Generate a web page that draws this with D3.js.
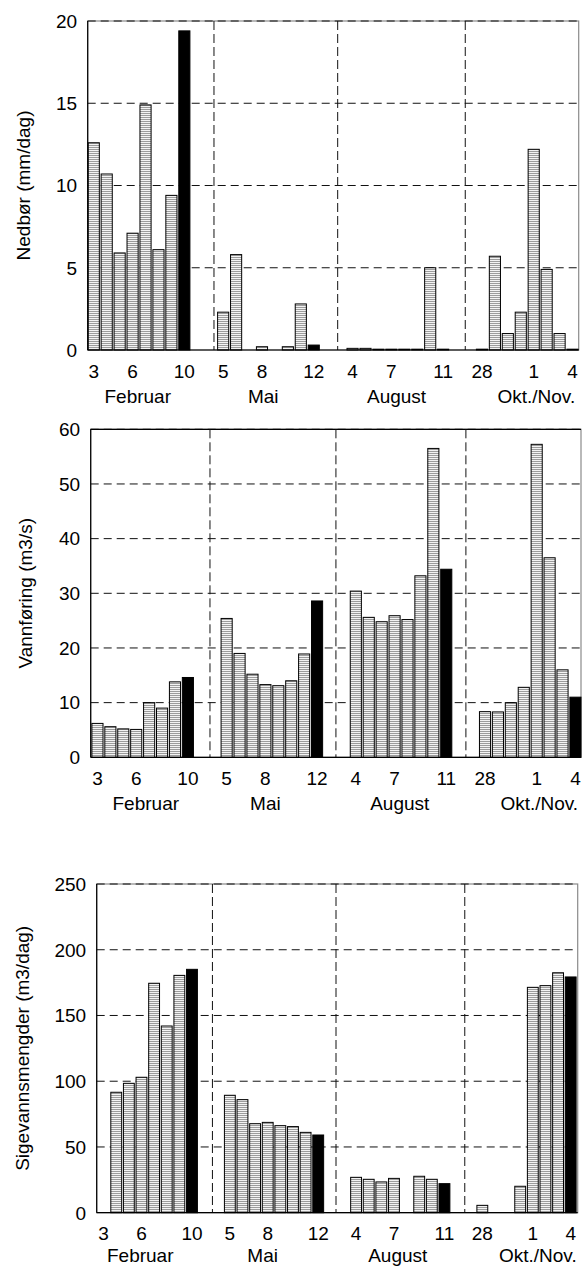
<!DOCTYPE html>
<html>
<head>
<meta charset="utf-8">
<script src="https://cdn.jsdelivr.net/npm/d3@7"></script>
<style>
  html, body { margin: 0; padding: 0; background: #fff; }
  svg { display: block; }
  text { font-family: "Liberation Sans", Arial, sans-serif; fill: #000; }
</style>
</head>
<body>
<script>
// ---------- data ----------
const months = ["Februar", "Mai", "August", "Okt./Nov."];
const days = [
  [3, 4, 5, 6, 7, 8, 9, 10],
  [5, 6, 7, 8, 9, 10, 11, 12],
  [4, 5, 6, 7, 8, 9, 10, 11],
  [28, 29, 30, 31, 1, 2, 3, 4]
];
const tickDays = [[3, 6, 10], [5, 8, 12], [4, 7, 11], [28, 1, 4]];

// Nedbør (mm/dag)
const nedbor = [
  12.6, 10.7, 5.9, 7.1, 14.9, 6.1, 9.4, 19.4,
  2.3, 5.8, 0, 0.2, 0, 0.2, 2.8, 0.3,
  0.1, 0.1, 0.05, 0.05, 0.05, 0.05, 5.0, 0.05,
  0.05, 5.7, 1.0, 2.3, 12.2, 4.9, 1.0, 0.05
];
// Vannføring (m3/s)
const vannforing = [
  6.2, 5.6, 5.2, 5.1, 10.0, 9.0, 13.8, 14.6,
  25.4, 19.0, 15.2, 13.3, 13.1, 14.0, 18.9, 28.6,
  30.4, 25.6, 24.8, 25.9, 25.2, 33.2, 56.5, 34.4,
  8.35, 8.3, 10.0, 12.8, 57.25, 36.5, 16.0, 11.0
];
// Sigevannsmengder (m3/dag)
const sigevann = [
  null, 91.6, 98.4, 103.0, 174.5, 142.0, 180.5, 185.1,
  89.3, 86.0, 67.7, 68.7, 66.2, 65.5, 61.1, 59.1,
  26.9, 25.4, 23.4, 26.1, null, 27.7, 25.4, 22.1,
  5.6, null, null, 20.1, 171.4, 172.7, 182.5, 179.3
];
// period divider positions (in slot units)
const dividersNedbor = [9.29, 18.85, 28.71];
const dividersVann = [8.71, 18.46, 28.52];
const dividersSige = [8.62, 18.41, 28.61];
// month label positions (in slot units)
const monthPosNedbor = [3.4, 13.1, 23.4, 34.2];
const monthPosVann = [3.74, 13.0, 23.4, 34.2];
const monthPosSige = [2.9, 12.6, 23.3, 34.4];

const yTicksNedbor = [0, 5, 10, 15, 20];
const yTicksVann = [0, 10, 20, 30, 40, 50, 60];
const yTicksSige = [0, 50, 100, 150, 200, 250];

// ---------- layout ----------
const W = 582, H = 1266;
const FS = 19;
const svg = d3.select("body").append("svg").attr("width", W).attr("height", H);

const defs = svg.append("defs");
const pat = defs.append("pattern").attr("id", "hatch")
  .attr("patternUnits", "userSpaceOnUse").attr("width", 4).attr("height", 2);
pat.append("rect").attr("width", 4).attr("height", 2).attr("fill", "#f3f3f3");
pat.append("rect").attr("width", 4).attr("height", 1).attr("y", 1).attr("fill", "#9c9c9c");

const GAP = 2; // empty slots between periods
const slotOf = (i) => Math.floor(i / 8) * (8 + GAP) + (i % 8);

const panels = [
  { title: "Nedbør (mm/dag)", values: nedbor, ticks: yTicksNedbor, dividers: dividersNedbor, monthPos: monthPosNedbor,
    top: 21, bottom: 350, xr: [87.3, 579], frameL: 87.7, frameR: 578.7, topSolid: false, titleX: 23, monthDy: 52.5 },
  { title: "Vannføring (m3/s)", values: vannforing, ticks: yTicksVann, dividers: dividersVann, monthPos: monthPosVann,
    top: 429.3, bottom: 757.3, xr: [91.0, 581.9], frameL: 90.7, frameR: 581, topSolid: true, titleX: 25.5, monthDy: 52.5 },
  { title: "Sigevannsmengder (m3/dag)", values: sigevann, ticks: yTicksSige, dividers: dividersSige, monthPos: monthPosSige,
    top: 884, bottom: 1212.7, xr: [97.3, 577], frameL: 96.7, frameR: 577.7, topSolid: false, titleX: 22.5, monthDy: 49.5 }
];

panels.forEach((p) => {
  const g = svg.append("g");
  const nSlots = 4 * 8 + 3 * GAP;
  const x = d3.scaleLinear().domain([-0.5, nSlots - 0.5]).range(p.xr);
  const y = d3.scaleLinear().domain([0, d3.max(p.ticks)]).range([p.bottom, p.top]);
  const step = x(1) - x(0);
  const bw = step * 0.86;

  // frame (grey)
  g.append("rect")
    .attr("x", p.frameL).attr("y", p.top)
    .attr("width", p.frameR - p.frameL).attr("height", p.bottom - p.top)
    .attr("fill", "none").attr("stroke", "#8a8a8a").attr("stroke-width", 1.2);

  // horizontal dashed gridlines
  g.selectAll(".hg").data(p.ticks.filter(t => t > 0)).join("line")
    .attr("x1", p.frameL).attr("x2", p.frameR)
    .attr("y1", d => y(d)).attr("y2", d => y(d))
    .attr("stroke", "#111").attr("stroke-width", 1)
    .attr("stroke-dasharray", "8,5");

  if (p.topSolid) {
    g.append("line").attr("x1", p.frameL).attr("x2", p.frameR)
      .attr("y1", p.top).attr("y2", p.top).attr("stroke", "#000").attr("stroke-width", 1.2);
  }

  // vertical dashed dividers
  g.selectAll(".vg").data(p.dividers).join("line")
    .attr("x1", d => x(d)).attr("x2", d => x(d))
    .attr("y1", p.top).attr("y2", p.bottom)
    .attr("stroke", "#111").attr("stroke-width", 1)
    .attr("stroke-dasharray", "9,4");

  // bars
  const barData = p.values.map((v, i) => ({ v, i, slot: slotOf(i), hi: i % 8 === 7 }))
    .filter(d => d.v != null && d.v > 0);
  g.selectAll(".bar").data(barData).join("rect")
    .attr("x", d => x(d.slot) - bw / 2)
    .attr("width", bw)
    .attr("y", d => y(d.v))
    .attr("height", d => y(0) - y(d.v))
    .attr("fill", d => d.hi ? "#000" : "url(#hatch)")
    .attr("stroke", "#000").attr("stroke-width", 1);

  // axes lines (left, bottom)
  g.append("line").attr("x1", p.frameL).attr("x2", p.frameL)
    .attr("y1", p.top).attr("y2", p.bottom).attr("stroke", "#000").attr("stroke-width", 1.2);
  g.append("line").attr("x1", p.frameL).attr("x2", p.frameR)
    .attr("y1", p.bottom).attr("y2", p.bottom).attr("stroke", "#000").attr("stroke-width", 1.2);

  // y tick labels
  g.selectAll(".yl").data(p.ticks).join("text")
    .attr("x", p.frameL - 10.5).attr("y", d => y(d))
    .attr("dy", "0.36em").attr("text-anchor", "end")
    .attr("font-size", FS).text(d => d);

  // x tick labels
  const xt = [];
  tickDays.forEach((arr, gi) => arr.forEach(dv => {
    const k = days[gi].indexOf(dv);
    xt.push({ label: dv, slot: gi * (8 + GAP) + k });
  }));
  g.selectAll(".xl").data(xt).join("text")
    .attr("x", d => x(d.slot)).attr("y", p.bottom + 27.5)
    .attr("text-anchor", "middle").attr("font-size", FS).text(d => d.label);

  // month labels
  g.selectAll(".ml").data(months).join("text")
    .attr("x", (d, i) => x(p.monthPos[i])).attr("y", p.bottom + p.monthDy)
    .attr("text-anchor", "middle").attr("font-size", FS).text(d => d);

  // y title
  g.append("text")
    .attr("transform", `translate(${p.titleX},${(p.top + p.bottom) / 2}) rotate(-90)`)
    .attr("text-anchor", "middle").attr("dy", "0.35em")
    .attr("font-size", FS).text(p.title);
});
</script>
</body>
</html>
